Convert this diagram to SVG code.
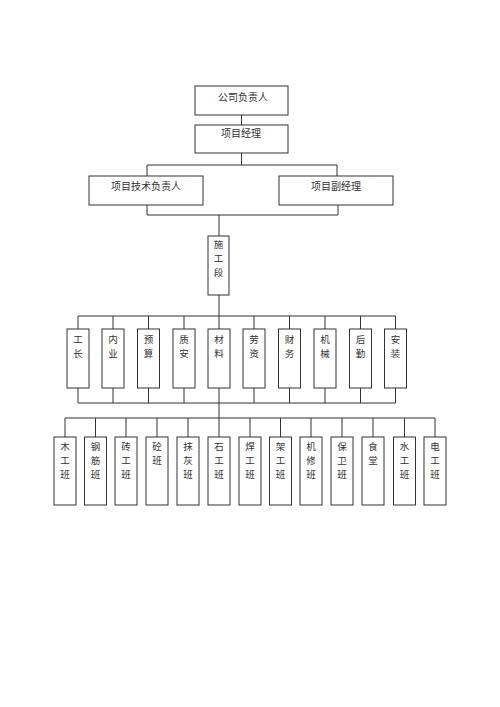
<svg xmlns="http://www.w3.org/2000/svg" width="500" height="707" viewBox="0 0 500 707">
<style>
rect{fill:#fff;stroke:#333;stroke-width:1}
text{font-family:"Noto Sans CJK SC","Liberation Serif",sans-serif;font-size:10px;fill:#333;text-anchor:middle}
.v{font-size:9.5px}
#connectors path{fill:none;stroke:#333;stroke-width:1}
</style>
<rect x="0" y="0" width="500" height="707" style="stroke:none"/>
<g id="connectors">
<path d="M241.5 115V125M241.5 153V165M147 165H337M147 165V176M337 165V176"/>
<path d="M147 205V215H338V205M219 215V236M219 295V316M78 316H395.5"/>
<path d="M78 316V329M113 316V329M148.5 316V329M184 316V329M219 316V329M254 316V329M289.5 316V329M325 316V329M360.5 316V329M395.5 316V329"/>
<path d="M78 388V403M113 388V403M148.5 388V403M184 388V403M219 388V403M254 388V403M289.5 388V403M325 388V403M360.5 388V403M395.5 388V403M78 403H395.5M219 403V418"/>
<path d="M65 418H435M65 418V437M95.5 418V437M126 418V437M157 418V437M188 418V437M219 418V437M250 418V437M280.5 418V437M311 418V437M342 418V437M373 418V437M404.5 418V437M435 418V437"/>
</g>
<g id="n-company"><rect x="195" y="86" width="93" height="29"/><text x="243" y="101">公司负责人</text></g>
<g id="n-pm"><rect x="195" y="125" width="93" height="28"/><text x="241" y="137">项目经理</text></g>
<g id="n-tech"><rect x="89" y="176" width="114" height="29"/><text x="146" y="190">项目技术负责人</text></g>
<g id="n-deputy"><rect x="279" y="176" width="114" height="29"/><text x="336" y="190">项目副经理</text></g>
<g id="n-section" class="v"><rect x="208" y="236" width="21" height="59"/><text class="v" x="218.5" y="248">施</text><text class="v" x="218.5" y="262">工</text><text class="v" x="218.5" y="276">段</text></g>
<g id="d1"><rect x="67" y="329" width="22" height="59"/><text class="v" x="78" y="343">工</text><text class="v" x="78" y="357">长</text></g>
<g id="d2"><rect x="102" y="329" width="22" height="59"/><text class="v" x="113" y="343">内</text><text class="v" x="113" y="357">业</text></g>
<g id="d3"><rect x="137.5" y="329" width="22" height="59"/><text class="v" x="148.5" y="343">预</text><text class="v" x="148.5" y="357">算</text></g>
<g id="d4"><rect x="173" y="329" width="22" height="59"/><text class="v" x="184" y="343">质</text><text class="v" x="184" y="357">安</text></g>
<g id="d5"><rect x="208" y="329" width="22" height="59"/><text class="v" x="219" y="343">材</text><text class="v" x="219" y="357">料</text></g>
<g id="d6"><rect x="243" y="329" width="22" height="59"/><text class="v" x="254" y="343">劳</text><text class="v" x="254" y="357">资</text></g>
<g id="d7"><rect x="278.5" y="329" width="22" height="59"/><text class="v" x="289.5" y="343">财</text><text class="v" x="289.5" y="357">务</text></g>
<g id="d8"><rect x="314" y="329" width="22" height="59"/><text class="v" x="325" y="343">机</text><text class="v" x="325" y="357">械</text></g>
<g id="d9"><rect x="349.5" y="329" width="22" height="59"/><text class="v" x="360.5" y="343">后</text><text class="v" x="360.5" y="357">勤</text></g>
<g id="d10"><rect x="384.5" y="329" width="22" height="59"/><text class="v" x="395.5" y="343">安</text><text class="v" x="395.5" y="357">装</text></g>
<g id="t1"><rect x="54" y="437" width="22" height="68"/><text class="v" x="65" y="450">木</text><text class="v" x="65" y="464">工</text><text class="v" x="65" y="478">班</text></g>
<g id="t2"><rect x="84.5" y="437" width="22" height="68"/><text class="v" x="95.5" y="450">钢</text><text class="v" x="95.5" y="464">筋</text><text class="v" x="95.5" y="478">班</text></g>
<g id="t3"><rect x="115" y="437" width="22" height="68"/><text class="v" x="126" y="450">砖</text><text class="v" x="126" y="464">工</text><text class="v" x="126" y="478">班</text></g>
<g id="t4"><rect x="146" y="437" width="22" height="68"/><text class="v" x="157" y="450">砼</text><text class="v" x="157" y="464">班</text></g>
<g id="t5"><rect x="177" y="437" width="22" height="68"/><text class="v" x="188" y="450">抹</text><text class="v" x="188" y="464">灰</text><text class="v" x="188" y="478">班</text></g>
<g id="t6"><rect x="208" y="437" width="22" height="68"/><text class="v" x="219" y="450">石</text><text class="v" x="219" y="464">工</text><text class="v" x="219" y="478">班</text></g>
<g id="t7"><rect x="239" y="437" width="22" height="68"/><text class="v" x="250" y="450">焊</text><text class="v" x="250" y="464">工</text><text class="v" x="250" y="478">班</text></g>
<g id="t8"><rect x="269.5" y="437" width="22" height="68"/><text class="v" x="280.5" y="450">架</text><text class="v" x="280.5" y="464">工</text><text class="v" x="280.5" y="478">班</text></g>
<g id="t9"><rect x="300" y="437" width="22" height="68"/><text class="v" x="311" y="450">机</text><text class="v" x="311" y="464">修</text><text class="v" x="311" y="478">班</text></g>
<g id="t10"><rect x="331" y="437" width="22" height="68"/><text class="v" x="342" y="450">保</text><text class="v" x="342" y="464">卫</text><text class="v" x="342" y="478">班</text></g>
<g id="t11"><rect x="362" y="437" width="22" height="68"/><text class="v" x="373" y="450">食</text><text class="v" x="373" y="464">堂</text></g>
<g id="t12"><rect x="393.5" y="437" width="22" height="68"/><text class="v" x="404.5" y="450">水</text><text class="v" x="404.5" y="464">工</text><text class="v" x="404.5" y="478">班</text></g>
<g id="t13"><rect x="424" y="437" width="22" height="68"/><text class="v" x="435" y="450">电</text><text class="v" x="435" y="464">工</text><text class="v" x="435" y="478">班</text></g>
</svg>
